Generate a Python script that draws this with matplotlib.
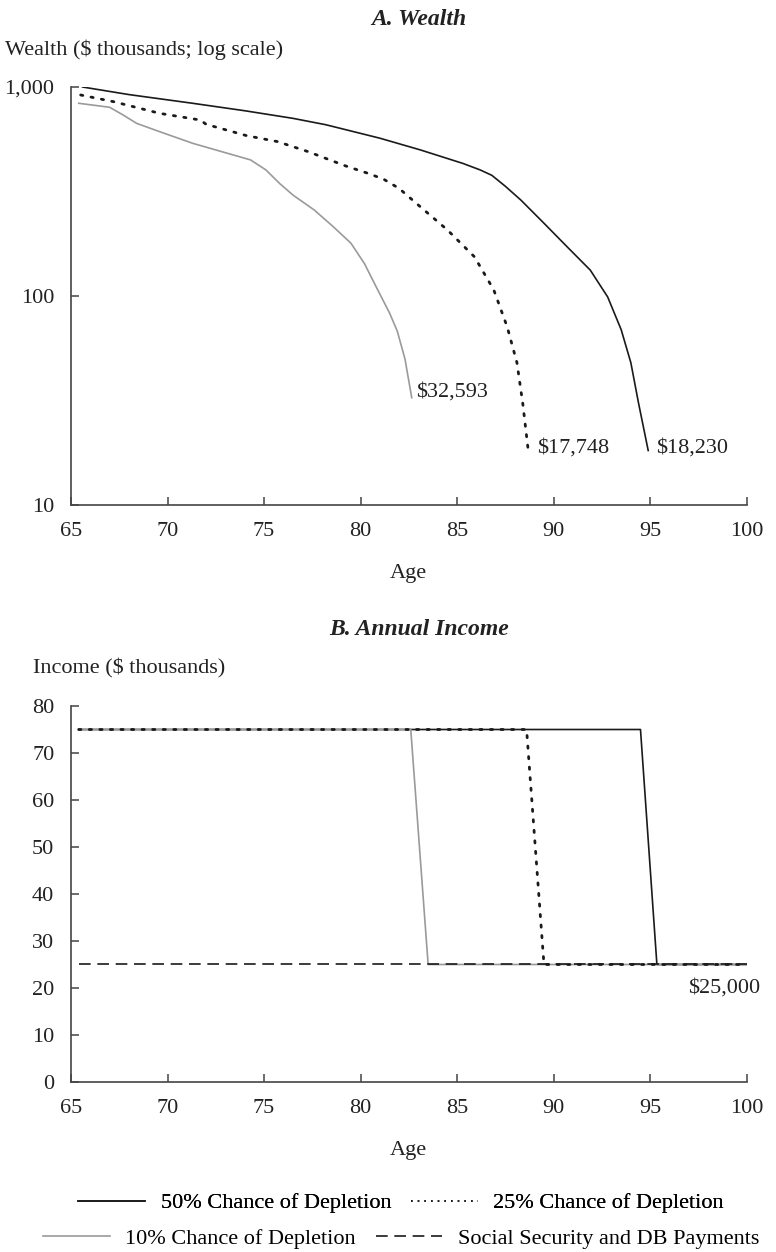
import matplotlib
matplotlib.use("Agg")
import matplotlib.pyplot as plt
from matplotlib.lines import Line2D
from matplotlib.ticker import FixedLocator, NullLocator

plt.rcParams['font.family'] = ['Liberation Serif', 'DejaVu Serif']
plt.rcParams['font.size'] = 16

# wealth paths ($ thousands)
age_50 = [65.6, 68.0, 71.3, 74.0, 76.5, 78.2, 80.0, 81.0, 83.1, 85.3, 86.2, 86.8, 87.5, 88.3, 89.5,
          90.7, 91.9, 92.8, 93.5, 94.0, 94.4, 94.9]
wealth_50 = [1000, 920, 836, 770, 708, 660, 600, 569, 500, 431, 401, 378, 335, 288, 223,
             172, 133, 99, 69, 48, 30.7, 18.23]

age_25 = [65.5, 67.2, 69.6, 71.7, 72.0, 74.1, 75.7, 77.3, 79.2, 80.4, 81.2, 82.0, 82.9, 84.5, 85.9,
          86.9, 87.6, 88.1, 88.4, 88.7]
wealth_25 = [916, 851, 748, 695, 663, 585, 548, 490, 420, 386, 362, 327, 277, 207, 154,
             107, 71, 48, 30.7, 17.75]

age_10 = [65.4, 67.0, 67.7, 68.4, 69.6, 71.3, 73.1, 74.3, 75.1, 75.8, 76.5, 77.6, 78.6, 79.5, 80.2,
          80.8, 81.5, 81.9, 82.3, 82.65]
wealth_10 = [836, 800, 735, 670, 611, 538, 482, 448, 401, 346, 304, 258, 214, 179, 143,
             111, 83, 68, 50, 32.6]

# annual income ($ thousands)
inc_age_50 = [65.4, 94.5, 95.35, 100]
inc_50 = [75, 75, 25, 25]
inc_age_25 = [65.4, 88.6, 89.5, 100]
inc_25 = [75, 75, 25, 25]
inc_age_10 = [65.4, 82.6, 83.5, 100]
inc_10 = [75, 75, 25, 25]
ss_age = [65.4, 100]
ss_inc = [25, 25]

x_ticks = [65, 70, 75, 80, 85, 90, 95, 100]

dark = '#1a1a1a'
grey = '#9a9a9a'
txt = '#222222'
spine_c = '#444444'
dot_style = (0, (0.8, 3.0))
dash_style = (0, (7, 4))

fig = plt.figure(figsize=(7.76, 12.52), dpi=100)


def style_axes(ax):
    for s in ['top', 'right']:
        ax.spines[s].set_visible(False)
    for s in ['left', 'bottom']:
        ax.spines[s].set_color(spine_c)
        ax.spines[s].set_linewidth(1.2)
    ax.tick_params(direction='in', length=6, width=1.1, color=spine_c,
                   labelsize=16, labelcolor=txt)
    ax.tick_params(axis='y', pad=12)
    ax.tick_params(axis='x', pad=12)
    ax.set_xlim(65, 100)
    ax.set_xticks(x_ticks)
    ax.set_xlabel('Age', fontsize=16, color=txt, labelpad=17)


# panel A
ax1 = fig.add_axes([0.0915, 0.5966, 0.8707, 0.3339])
ax1.plot(age_10, wealth_10, color=grey, lw=1.2)
ax1.plot(age_25, wealth_25, color=dark, lw=2.0, linestyle=dot_style, dash_capstyle='round')
ax1.plot(age_50, wealth_50, color=dark, lw=1.2)
ax1.set_yscale('log')
ax1.set_ylim(10, 1000)
ax1.yaxis.set_major_locator(FixedLocator([10, 100, 1000]))
ax1.yaxis.set_minor_locator(NullLocator())
ax1.set_yticklabels(['10', '100', '1,000'])
style_axes(ax1)
ax1.text(82.9, 34.8, '$32,593', fontsize=16, va='center', color=txt)
ax1.text(89.15, 18.7, '$17,748', fontsize=16, va='center', color=txt)
ax1.text(95.3, 18.7, '$18,230', fontsize=16, va='center', color=txt)
fig.text(0.54, 0.993, 'A. Wealth', ha='center', va='top', fontsize=17,
         fontweight='bold', fontstyle='italic', color=txt)
fig.text(0.006, 0.960, 'Wealth ($ thousands; log scale)', ha='left', va='center',
         fontsize=16, color=txt)

# panel B
ax2 = fig.add_axes([0.0915, 0.1358, 0.8707, 0.3003])
l50, = ax2.plot(inc_age_50, inc_50, color=dark, lw=1.2)
l10, = ax2.plot(inc_age_10, inc_10, color=grey, lw=1.2)
lss, = ax2.plot(ss_age, ss_inc, color=dark, lw=1.2, linestyle=dash_style)
ax2.plot(inc_age_25, inc_25, color=dark, lw=2.0, linestyle=dot_style, dash_capstyle='round')
ax2.set_ylim(0, 80)
ax2.set_yticks(range(0, 81, 10))
style_axes(ax2)
ax2.text(100.7, 20, '$25,000', fontsize=16, ha='right', va='center', color=txt)
fig.text(0.54, 0.497, 'B. Annual Income', ha='center', va='center', fontsize=17,
         fontweight='bold', fontstyle='italic', color=txt)
fig.text(0.043, 0.466, 'Income ($ thousands)', ha='left', va='center',
         fontsize=16, color=txt)

# legend, two centred rows
l25 = Line2D([], [], color=dark, lw=1.2, linestyle=(0, (1, 3)))
leg_kw = dict(loc='center', ncol=2, frameon=False, fontsize=16, handlelength=3.0,
              handletextpad=0.7, columnspacing=0.9)
leg1 = fig.legend([l50, l25], ['50% Chance of Depletion', '25% Chance of Depletion'],
                  bbox_to_anchor=(0.517, 0.039), **leg_kw)
fig.add_artist(leg1)
fig.legend([l10, lss], ['10% Chance of Depletion', 'Social Security and DB Payments'],
           bbox_to_anchor=(0.517, 0.011), **leg_kw)

fig.savefig('out.png', dpi=100)
